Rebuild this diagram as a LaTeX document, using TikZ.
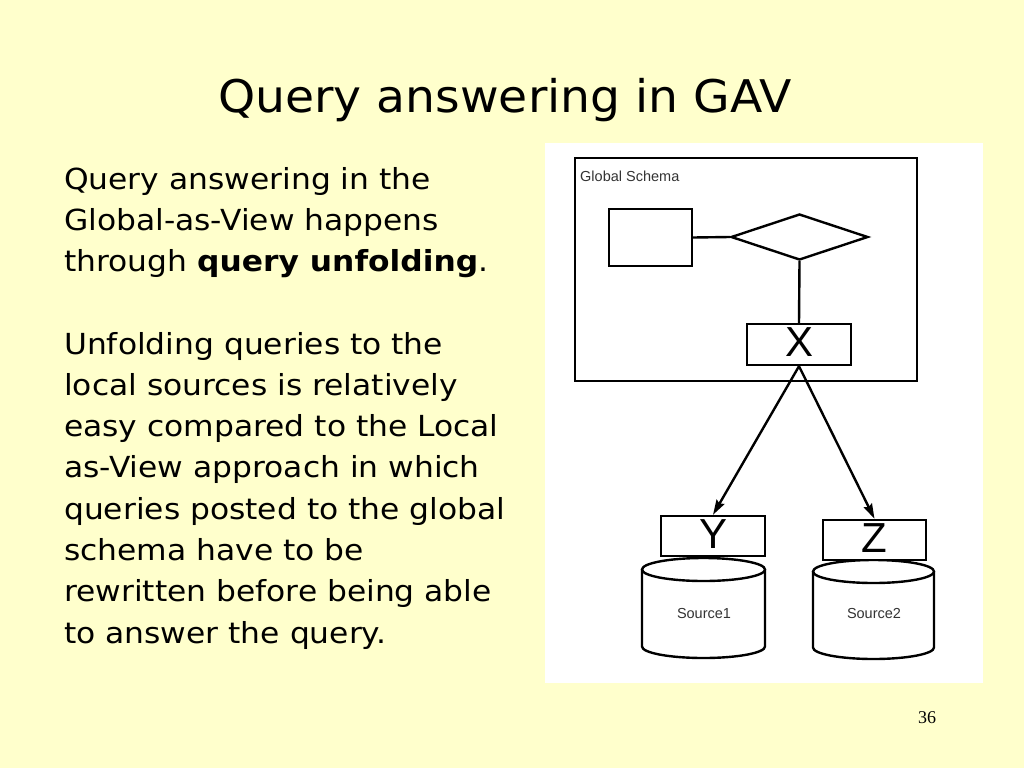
\documentclass[tikz,border=0pt]{standalone}
\usepackage{fontspec}
\setmainfont{DejaVu Sans}[FakeStretch=1.08]
\newfontfamily\titlefont{DejaVu Sans}[FakeStretch=1.05]
\newfontfamily\diagfont{Liberation Sans}
\newfontfamily\numfont{Liberation Serif}
\usetikzlibrary{shapes.geometric,arrows.meta}
\definecolor{slidebg}{RGB}{255,255,204}
\begin{document}
\begin{tikzpicture}[x=1pt,y=-1pt,
  line/.style={draw=black, line width=2.4pt},
  boxnode/.style={draw=black, line width=2.4pt, fill=white, inner sep=0pt, rectangle},
  bodyline/.style={anchor=base west, inner sep=0pt, font=\fontsize{29}{34}\selectfont},
  letterbox/.style={boxnode, font=\diagfont\fontsize{42}{42}\selectfont, text height=30pt, text depth=6pt},
  smalllabel/.style={inner sep=0pt, text=black!80, font=\diagfont\fontsize{14.5}{16}\selectfont},
  arrowline/.style={line width=2.4pt, -{Stealth[length=15pt, width=9pt, inset=2pt]}},
]
\fill[slidebg] (0,0) rectangle (1024,768);
\useasboundingbox (0,0) rectangle (1024,768);

% title
\node[anchor=base west, inner sep=0pt, font=\titlefont\fontsize{45}{54}\selectfont] (title) at (218,112) {Query answering in GAV};

% body text
\node[bodyline] (l1) at (64,189) {Query answering in the};
\node[bodyline] (l2) at (64,230.3) {Global-as-View happens};
\node[bodyline] (l3) at (64,271.5) {through \textbf{query unfolding}.};
\node[bodyline] (l4) at (64,354.1) {Unfolding queries to the};
\node[bodyline] (l5) at (64,395.4) {local sources is relatively};
\node[bodyline] (l6) at (64,436.6) {easy compared to the Local};
\node[bodyline] (l7) at (64,477.9) {as-View approach in which};
\node[bodyline] (l8) at (64,519.2) {queries posted to the global};
\node[bodyline] (l9) at (64,560.4) {schema have to be};
\node[bodyline] (l10) at (64,601.7) {rewritten before being able};
\node[bodyline] (l11) at (64,643) {to answer the query.};

% slide number
\node[anchor=base, inner sep=0pt, font=\numfont\fontsize{18}{20}\selectfont] (num) at (927,723) {36};

% diagram background
\fill[white] (545,143) rectangle (983,683);

% global schema frame
\node[boxnode, fill=none, minimum width=342pt, minimum height=223pt] (gs) at (746,269.5) {};
\node[smalllabel, anchor=base west] (gslabel) at (580,181) {Global Schema};

% ER part
\node[boxnode, minimum width=83pt, minimum height=57pt] (ent) at (650.5,237.5) {};
\node[diamond, draw=black, line width=2.4pt, fill=white, inner sep=0pt, minimum width=137pt, minimum height=46pt] (rel) at (799.5,237) {};
\node[letterbox, minimum width=104pt, minimum height=41pt] (xbox) at (799,344.5) {X};
\draw[line] (ent.east) -- (rel.west);
\draw[line] (rel.south) -- (xbox.north);

% sources (cylinders)
\path[fill=white] (642,569.5) -- (642,646.5) .. controls (642,652.85) and (669.53,658) .. (703.5,658) .. controls (737.47,658) and (765,652.85) .. (765,646.5) -- (765,569.5) -- cycle;
\draw[line] (642,569.5) -- (642,646.5) .. controls (642,652.85) and (669.53,658) .. (703.5,658) .. controls (737.47,658) and (765,652.85) .. (765,646.5) -- (765,569.5);
\draw[line, fill=white] (703.5,569.5) ellipse (61.5 and 11.5);
\node[smalllabel] (src1) at (704,613) {Source1};

\path[fill=white] (813,571.5) -- (813,647.5) .. controls (813,653.85) and (840.09,659) .. (873.5,659) .. controls (906.91,659) and (934,653.85) .. (934,647.5) -- (934,571.5) -- cycle;
\draw[line] (813,571.5) -- (813,647.5) .. controls (813,653.85) and (840.09,659) .. (873.5,659) .. controls (906.91,659) and (934,653.85) .. (934,647.5) -- (934,571.5);
\draw[line, fill=white] (873.5,571.5) ellipse (60.5 and 11.5);
\node[smalllabel] (src2) at (874,613) {Source2};

% views
\node[letterbox, minimum width=104pt, minimum height=40pt] (ybox) at (713,536) {Y};
\node[letterbox, minimum width=103pt, minimum height=40pt] (zbox) at (874.5,540) {Z};

% arrows
\draw[arrowline] (xbox.south) -- (ybox.north);
\draw[arrowline] (xbox.south) -- (zbox.north);
\end{tikzpicture}
\end{document}
